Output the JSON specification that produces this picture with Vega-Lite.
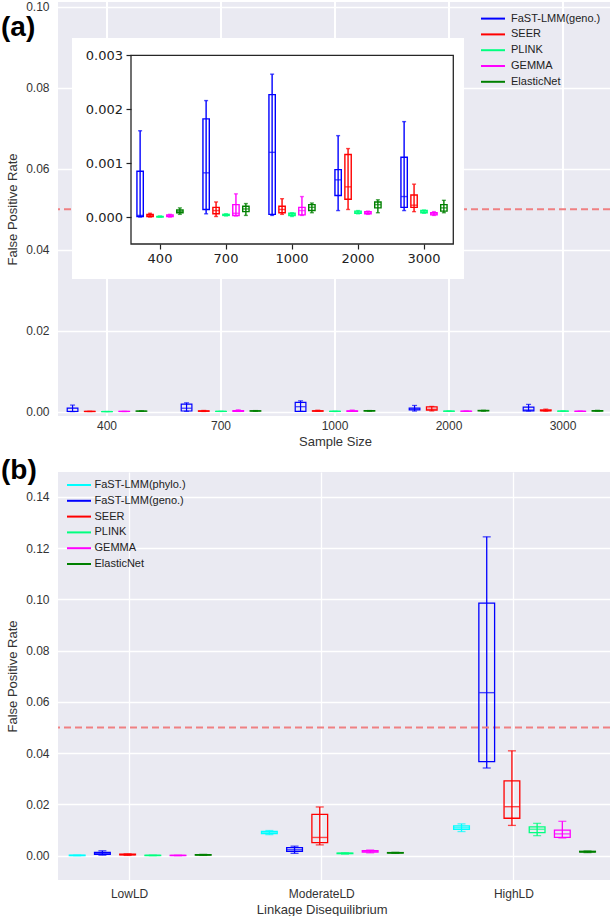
{
  "$schema": "https://vega.github.io/schema/vega-lite/v6.json",
  "padding": 0,
  "background": "white",
  "spacing": 56,
  "bounds": "flush",
  "resolve": {"scale": {"color": "independent"}, "legend": {"color": "independent"}},
  "datasets": {
    "a": [
      {"size": "400", "method": "FaST-LMM(geno.)", "lo": 0.0, "q1": 0.00001, "med": 0.00003, "q3": 0.00085, "hi": 0.0016},
      {"size": "400", "method": "SEER", "lo": 0.0, "q1": 0.00001, "med": 0.00003, "q3": 0.00005, "hi": 0.00007},
      {"size": "400", "method": "PLINK", "lo": 0.0, "q1": 0.0, "med": 0.00001, "q3": 0.00001, "hi": 0.00002},
      {"size": "400", "method": "GEMMA", "lo": 0.0, "q1": 0.00001, "med": 0.00002, "q3": 0.00004, "hi": 0.00005},
      {"size": "400", "method": "ElasticNet", "lo": 0.00005, "q1": 0.00008, "med": 0.0001, "q3": 0.00013, "hi": 0.00017},
      {"size": "700", "method": "FaST-LMM(geno.)", "lo": 0.00006, "q1": 0.00014, "med": 0.00082, "q3": 0.00182, "hi": 0.00216},
      {"size": "700", "method": "SEER", "lo": 0.00001, "q1": 0.00006, "med": 0.00012, "q3": 0.00018, "hi": 0.00028},
      {"size": "700", "method": "PLINK", "lo": 0.00002, "q1": 0.00003, "med": 0.00004, "q3": 0.00005, "hi": 0.00006},
      {"size": "700", "method": "GEMMA", "lo": 0.00002, "q1": 0.00003, "med": 0.00007, "q3": 0.00023, "hi": 0.00043},
      {"size": "700", "method": "ElasticNet", "lo": 0.00003, "q1": 0.0001, "med": 0.00015, "q3": 0.0002, "hi": 0.00025},
      {"size": "1000", "method": "FaST-LMM(geno.)", "lo": 0.00003, "q1": 0.00005, "med": 0.0012, "q3": 0.00227, "hi": 0.00265},
      {"size": "1000", "method": "SEER", "lo": 0.00005, "q1": 0.00008, "med": 0.00014, "q3": 0.0002, "hi": 0.00034},
      {"size": "1000", "method": "PLINK", "lo": 0.00001, "q1": 0.00003, "med": 0.00005, "q3": 0.00007, "hi": 0.00008},
      {"size": "1000", "method": "GEMMA", "lo": 0.00003, "q1": 0.00004, "med": 0.00012, "q3": 0.00018, "hi": 0.00038},
      {"size": "1000", "method": "ElasticNet", "lo": 0.00008, "q1": 0.00012, "med": 0.00018, "q3": 0.00023, "hi": 0.00026},
      {"size": "2000", "method": "FaST-LMM(geno.)", "lo": 0.00012, "q1": 0.0004, "med": 0.00069, "q3": 0.00088, "hi": 0.00151},
      {"size": "2000", "method": "SEER", "lo": 0.00014, "q1": 0.00033, "med": 0.00056, "q3": 0.00116, "hi": 0.00127},
      {"size": "2000", "method": "PLINK", "lo": 0.00006, "q1": 0.00007, "med": 0.00009, "q3": 0.00011, "hi": 0.00012},
      {"size": "2000", "method": "GEMMA", "lo": 0.00005, "q1": 0.00006, "med": 0.00008, "q3": 0.0001, "hi": 0.00011},
      {"size": "2000", "method": "ElasticNet", "lo": 0.00008, "q1": 0.00017, "med": 0.00023, "q3": 0.00028, "hi": 0.00032},
      {"size": "3000", "method": "FaST-LMM(geno.)", "lo": 0.00012, "q1": 0.00018, "med": 0.00038, "q3": 0.00111, "hi": 0.00177},
      {"size": "3000", "method": "SEER", "lo": 0.0001, "q1": 0.00018, "med": 0.00022, "q3": 0.00041, "hi": 0.00061},
      {"size": "3000", "method": "PLINK", "lo": 0.00007, "q1": 0.00008, "med": 0.0001, "q3": 0.00012, "hi": 0.00013},
      {"size": "3000", "method": "GEMMA", "lo": 0.00003, "q1": 0.00004, "med": 0.00006, "q3": 0.00008, "hi": 0.0001},
      {"size": "3000", "method": "ElasticNet", "lo": 0.00008, "q1": 0.00011, "med": 0.00017, "q3": 0.00023, "hi": 0.00031}
    ],
    "b": [
      {"ld": "LowLD", "method": "FaST-LMM(phylo.)", "lo": 0.0, "q1": 0.00005, "med": 0.0001, "q3": 0.00015, "hi": 0.0002},
      {"ld": "LowLD", "method": "FaST-LMM(geno.)", "lo": 0.0002, "q1": 0.0005, "med": 0.0009, "q3": 0.0013, "hi": 0.0019},
      {"ld": "LowLD", "method": "SEER", "lo": 0.0001, "q1": 0.0003, "med": 0.0004, "q3": 0.0006, "hi": 0.0007},
      {"ld": "LowLD", "method": "PLINK", "lo": 0.0, "q1": 0.00005, "med": 0.0001, "q3": 0.00015, "hi": 0.0002},
      {"ld": "LowLD", "method": "GEMMA", "lo": 0.0, "q1": 0.00005, "med": 0.0001, "q3": 0.00012, "hi": 0.00015},
      {"ld": "LowLD", "method": "ElasticNet", "lo": 0.0001, "q1": 0.0002, "med": 0.0003, "q3": 0.0004, "hi": 0.0005},
      {"ld": "ModerateLD", "method": "FaST-LMM(phylo.)", "lo": 0.0082, "q1": 0.0086, "med": 0.0091, "q3": 0.0095, "hi": 0.0098},
      {"ld": "ModerateLD", "method": "FaST-LMM(geno.)", "lo": 0.0009, "q1": 0.0017, "med": 0.0023, "q3": 0.0031, "hi": 0.0037},
      {"ld": "ModerateLD", "method": "SEER", "lo": 0.0042, "q1": 0.0051, "med": 0.0071, "q3": 0.0161, "hi": 0.019},
      {"ld": "ModerateLD", "method": "PLINK", "lo": 0.0006, "q1": 0.0008, "med": 0.0009, "q3": 0.001, "hi": 0.0011},
      {"ld": "ModerateLD", "method": "GEMMA", "lo": 0.0011, "q1": 0.0014, "med": 0.0017, "q3": 0.002, "hi": 0.0022},
      {"ld": "ModerateLD", "method": "ElasticNet", "lo": 0.0009, "q1": 0.001, "med": 0.0011, "q3": 0.0012, "hi": 0.0013},
      {"ld": "HighLD", "method": "FaST-LMM(phylo.)", "lo": 0.0094, "q1": 0.0103, "med": 0.011, "q3": 0.0116, "hi": 0.0124},
      {"ld": "HighLD", "method": "FaST-LMM(geno.)", "lo": 0.0342, "q1": 0.0367, "med": 0.0636, "q3": 0.0985, "hi": 0.1244},
      {"ld": "HighLD", "method": "SEER", "lo": 0.0118, "q1": 0.0146, "med": 0.0191, "q3": 0.0292, "hi": 0.0409},
      {"ld": "HighLD", "method": "PLINK", "lo": 0.0078, "q1": 0.009, "med": 0.0103, "q3": 0.0112, "hi": 0.0126},
      {"ld": "HighLD", "method": "GEMMA", "lo": 0.0069, "q1": 0.0071, "med": 0.0085, "q3": 0.01, "hi": 0.0134},
      {"ld": "HighLD", "method": "ElasticNet", "lo": 0.0012, "q1": 0.0014, "med": 0.0015, "q3": 0.0017, "hi": 0.0018}
    ]
  },
  "vconcat": [
    {
      "width": 552,
      "height": 414,
      "data": {"name": "a"},
      "resolve": {
        "scale": {"x": "independent", "y": "independent", "xOffset": "independent"},
        "axis": {"x": "independent", "y": "independent"}
      },
      "layer": [
        {
          "layer": [
            {
              "mark": {"type": "rule", "color": "#FFFFFF", "strokeWidth": 1.3},
              "encoding": {
                "x": {
                  "field": "size", "type": "nominal", "title": "Sample Size",
                  "scale": {"domain": ["400", "700", "1000", "2000", "3000"], "range": [-8, 562], "paddingInner": 0, "paddingOuter": 0},
                  "axis": {"orient": "bottom", "labelAngle": 0, "labelPadding": 4, "titlePadding": 4, "grid": false, "domain": false, "ticks": false, "tickSize": 0}
                }
              }
            },
            {
              "mark": {"type": "rule", "strokeWidth": 1.2},
              "encoding": {
                "x": {"field": "size", "type": "nominal", "title": "Sample Size"},
                "xOffset": {"field": "method", "type": "nominal", "scale": {"domain": ["FaST-LMM(geno.)", "SEER", "PLINK", "GEMMA", "ElasticNet"], "paddingInner": 0.38, "paddingOuter": 1.19}},
                "y": {
                  "field": "lo", "type": "quantitative", "title": "False Positive Rate",
                  "scale": {"domain": [-0.0011, 0.1012], "nice": false, "zero": false},
                  "axis": {"orient": "left", "values": [0, 0.02, 0.04, 0.06, 0.08, 0.1], "format": ".2f", "grid": true, "labelPadding": 9, "titlePadding": 6, "domain": false, "ticks": false, "tickSize": 0}
                },
                "y2": {"field": "hi"},
                "color": {
                  "field": "method", "type": "nominal",
                  "scale": {"domain": ["FaST-LMM(geno.)", "SEER", "PLINK", "GEMMA", "ElasticNet"], "range": ["#0000FF", "#FF0000", "#00FF7F", "#FF00FF", "#008000"]},
                  "legend": {"title": null, "orient": "none", "legendX": 428, "legendY": 9.6, "symbolType": "M-2,0H2", "symbolSize": 144, "symbolStrokeWidth": 2, "labelFontSize": 11, "rowPadding": 3.8, "labelOffset": 11}
                }
              }
            },
            {
              "data": {"values": [{}]},
              "mark": {"type": "rule", "color": "#EF8082", "strokeDash": [7, 4], "strokeWidth": 2},
              "encoding": {
                "y": {"datum": 0.05, "type": "quantitative", "title": "False Positive Rate"}
              }
            },
            {
              "mark": {"type": "bar", "filled": false, "strokeWidth": 1.2},
              "encoding": {
                "x": {"field": "size", "type": "nominal", "title": "Sample Size"},
                "xOffset": {"field": "method", "type": "nominal"},
                "y": {"field": "q1", "type": "quantitative", "title": "False Positive Rate"},
                "y2": {"field": "q3"},
                "color": {"field": "method", "type": "nominal", "legend": null}
              }
            },
            {
              "mark": {"type": "tick", "orient": "horizontal", "size": 10, "thickness": 1.3},
              "encoding": {
                "x": {"field": "size", "type": "nominal", "title": "Sample Size"},
                "xOffset": {"field": "method", "type": "nominal"},
                "y": {"field": "med", "type": "quantitative", "title": "False Positive Rate"},
                "color": {"field": "method", "type": "nominal", "legend": null}
              }
            },
            {
              "mark": {"type": "tick", "orient": "horizontal", "size": 5, "thickness": 1.2},
              "encoding": {
                "x": {"field": "size", "type": "nominal", "title": "Sample Size"},
                "xOffset": {"field": "method", "type": "nominal"},
                "y": {"field": "hi", "type": "quantitative", "title": "False Positive Rate"},
                "color": {"field": "method", "type": "nominal", "legend": null}
              }
            },
            {
              "mark": {"type": "tick", "orient": "horizontal", "size": 5, "thickness": 1.2},
              "encoding": {
                "x": {"field": "size", "type": "nominal", "title": "Sample Size"},
                "xOffset": {"field": "method", "type": "nominal"},
                "y": {"field": "lo", "type": "quantitative", "title": "False Positive Rate"},
                "color": {"field": "method", "type": "nominal", "legend": null}
              }
            },
            {
              "data": {"values": [{"size": "400", "label": "(a)"}]},
              "mark": {"type": "text", "font": "Liberation Sans", "fontSize": 28, "fontWeight": "bold", "align": "left", "baseline": "middle", "dx": -106, "dy": 21, "color": "black"},
              "encoding": {
                "x": {"field": "size", "type": "nominal", "title": "Sample Size"},
                "y": {"datum": 0.1, "type": "quantitative", "title": "False Positive Rate"},
                "text": {"field": "label"}
              }
            }
          ]
        },
        {
          "data": {"values": [{}]},
          "layer": [
            {
              "mark": {"type": "rect", "color": "white"},
              "encoding": {
                "x": {"datum": -0.1831, "type": "quantitative", "scale": {"domain": [0, 1], "range": [73, 395.3], "nice": false, "zero": false}, "axis": null},
                "x2": {"datum": 1.0332},
                "y": {"datum": -0.1855, "type": "quantitative", "scale": {"domain": [0, 1], "range": [242, 53.3], "nice": false, "zero": false}, "axis": null},
                "y2": {"datum": 1.0917}
              }
            },
            {
              "mark": {"type": "rect", "fill": null, "fillOpacity": 0, "stroke": "#262626", "strokeWidth": 1.3},
              "encoding": {
                "x": {"datum": 0, "type": "quantitative", "axis": null},
                "x2": {"datum": 1},
                "y": {"datum": 0, "type": "quantitative", "axis": null},
                "y2": {"datum": 1}
              }
            }
          ]
        },
        {
          "layer": [
            {
              "mark": {"type": "rule", "strokeWidth": 1.4},
              "encoding": {
                "x": {
                  "field": "size", "type": "nominal", "title": null,
                  "scale": {"domain": ["400", "700", "1000", "2000", "3000"], "range": [69, 399], "paddingInner": 0, "paddingOuter": 0},
                  "axis": {"orient": "bottom", "offset": -172, "zindex": 1, "grid": false, "domain": false, "ticks": true, "tickSize": 5, "tickColor": "#222222", "tickWidth": 1.2, "labelFont": "DejaVu Sans", "labelFontSize": 13, "labelColor": "#222222", "labelPadding": 3, "labelAngle": 0, "bandPosition": 0.5}
                },
                "xOffset": {"field": "method", "type": "nominal", "scale": {"domain": ["FaST-LMM(geno.)", "SEER", "PLINK", "GEMMA", "ElasticNet"], "paddingInner": 0.36, "paddingOuter": 1.19}},
                "y": {
                  "field": "lo", "type": "quantitative", "title": null,
                  "scale": {"domain": [-0.0005, 0.003], "range": [242, 53.3], "nice": false, "zero": false},
                  "axis": {"orient": "left", "offset": -73, "zindex": 1, "values": [0, 0.001, 0.002, 0.003], "format": ".3f", "grid": false, "domain": false, "ticks": true, "tickSize": 5, "tickColor": "#222222", "tickWidth": 1.2, "labelFont": "DejaVu Sans", "labelFontSize": 13, "labelColor": "#222222", "labelPadding": 3.5}
                },
                "y2": {"field": "hi"},
                "color": {"field": "method", "type": "nominal", "legend": null}
              }
            },
            {
              "mark": {"type": "bar", "filled": false, "strokeWidth": 1.4},
              "encoding": {
                "x": {"field": "size", "type": "nominal", "title": null},
                "xOffset": {"field": "method", "type": "nominal"},
                "y": {"field": "q1", "type": "quantitative", "title": null},
                "y2": {"field": "q3"},
                "color": {"field": "method", "type": "nominal", "legend": null}
              }
            },
            {
              "mark": {"type": "tick", "orient": "horizontal", "size": 6, "thickness": 1.4},
              "encoding": {
                "x": {"field": "size", "type": "nominal", "title": null},
                "xOffset": {"field": "method", "type": "nominal"},
                "y": {"field": "med", "type": "quantitative", "title": null},
                "color": {"field": "method", "type": "nominal", "legend": null}
              }
            },
            {
              "mark": {"type": "tick", "orient": "horizontal", "size": 4, "thickness": 1.4},
              "encoding": {
                "x": {"field": "size", "type": "nominal", "title": null},
                "xOffset": {"field": "method", "type": "nominal"},
                "y": {"field": "hi", "type": "quantitative", "title": null},
                "color": {"field": "method", "type": "nominal", "legend": null}
              }
            },
            {
              "mark": {"type": "tick", "orient": "horizontal", "size": 4, "thickness": 1.4},
              "encoding": {
                "x": {"field": "size", "type": "nominal", "title": null},
                "xOffset": {"field": "method", "type": "nominal"},
                "y": {"field": "lo", "type": "quantitative", "title": null},
                "color": {"field": "method", "type": "nominal", "legend": null}
              }
            }
          ]
        }
      ]
    },
    {
      "width": 552,
      "height": 408,
      "data": {"name": "b"},
      "layer": [
        {
          "mark": {"type": "rule", "strokeWidth": 1.3},
          "encoding": {
            "x": {
              "field": "ld", "type": "nominal", "title": "Linkage Disequilibrium",
              "scale": {"domain": ["LowLD", "ModerateLD", "HighLD"], "range": [-24.5, 552], "paddingInner": 0, "paddingOuter": 0},
              "axis": {"orient": "bottom", "labelAngle": 0, "labelPadding": 8, "titlePadding": 4, "grid": true, "bandPosition": 0.5, "tickBand": "center", "domain": false, "ticks": false, "tickSize": 0}
            },
            "xOffset": {"field": "method", "type": "nominal", "scale": {"domain": ["FaST-LMM(phylo.)", "FaST-LMM(geno.)", "SEER", "PLINK", "GEMMA", "ElasticNet"], "paddingInner": 0.375, "paddingOuter": 1.1875, "align": 0.7105}},
            "y": {
              "field": "lo", "type": "quantitative", "title": "False Positive Rate",
              "scale": {"domain": [-0.0095, 0.1497], "nice": false, "zero": false},
              "axis": {"orient": "left", "values": [0, 0.02, 0.04, 0.06, 0.08, 0.1, 0.12, 0.14], "format": ".2f", "grid": true, "labelPadding": 9, "titlePadding": 6, "domain": false, "ticks": false, "tickSize": 0}
            },
            "y2": {"field": "hi"},
            "color": {
              "field": "method", "type": "nominal",
              "scale": {"domain": ["FaST-LMM(phylo.)", "FaST-LMM(geno.)", "SEER", "PLINK", "GEMMA", "ElasticNet"], "range": ["#00FFFF", "#0000FF", "#FF0000", "#00FF7F", "#FF00FF", "#008000"]},
              "legend": {"title": null, "orient": "none", "legendX": 14, "legendY": 6, "symbolType": "M-2,0H2", "symbolSize": 144, "symbolStrokeWidth": 2, "labelFontSize": 11, "rowPadding": 3.8, "labelOffset": 8.5}
            }
          }
        },
        {
          "data": {"values": [{}]},
          "mark": {"type": "rule", "color": "#EF8082", "strokeDash": [7, 4], "strokeWidth": 2},
          "encoding": {
            "y": {"datum": 0.05, "type": "quantitative", "title": "False Positive Rate"}
          }
        },
        {
          "mark": {"type": "bar", "filled": false, "strokeWidth": 1.3},
          "encoding": {
            "x": {"field": "ld", "type": "nominal", "title": "Linkage Disequilibrium"},
            "xOffset": {"field": "method", "type": "nominal"},
            "y": {"field": "q1", "type": "quantitative", "title": "False Positive Rate"},
            "y2": {"field": "q3"},
            "color": {"field": "method", "type": "nominal", "legend": null}
          }
        },
        {
          "mark": {"type": "tick", "orient": "horizontal", "size": 15, "thickness": 1.4},
          "encoding": {
            "x": {"field": "ld", "type": "nominal", "title": "Linkage Disequilibrium"},
            "xOffset": {"field": "method", "type": "nominal"},
            "y": {"field": "med", "type": "quantitative", "title": "False Positive Rate"},
            "color": {"field": "method", "type": "nominal", "legend": null}
          }
        },
        {
          "mark": {"type": "tick", "orient": "horizontal", "size": 8, "thickness": 1.3},
          "encoding": {
            "x": {"field": "ld", "type": "nominal", "title": "Linkage Disequilibrium"},
            "xOffset": {"field": "method", "type": "nominal"},
            "y": {"field": "hi", "type": "quantitative", "title": "False Positive Rate"},
            "color": {"field": "method", "type": "nominal", "legend": null}
          }
        },
        {
          "mark": {"type": "tick", "orient": "horizontal", "size": 8, "thickness": 1.3},
          "encoding": {
            "x": {"field": "ld", "type": "nominal", "title": "Linkage Disequilibrium"},
            "xOffset": {"field": "method", "type": "nominal"},
            "y": {"field": "lo", "type": "quantitative", "title": "False Positive Rate"},
            "color": {"field": "method", "type": "nominal", "legend": null}
          }
        },
        {
          "data": {"values": [{"ld": "LowLD", "label": "(b)"}]},
          "mark": {"type": "text", "font": "Liberation Sans", "fontSize": 28, "fontWeight": "bold", "align": "left", "baseline": "middle", "dx": -128.6, "dy": -26, "color": "black"},
          "encoding": {
            "x": {"field": "ld", "type": "nominal", "title": "Linkage Disequilibrium"},
            "y": {"datum": 0.14, "type": "quantitative", "title": "False Positive Rate"},
            "text": {"field": "label"}
          }
        }
      ]
    }
  ],
  "config": {
    "view": {"fill": "#EAEAF2", "stroke": null},
    "font": "Liberation Sans",
    "axis": {
      "labelFont": "Liberation Sans", "labelFontSize": 12, "labelColor": "#333333",
      "titleFont": "Liberation Sans", "titleFontSize": 13, "titleColor": "#333333", "titleFontWeight": "normal",
      "gridColor": "#FFFFFF", "gridWidth": 1.3, "gridOpacity": 1
    },
    "legend": {"labelFont": "Liberation Sans", "labelColor": "#222222"}
  }
}
